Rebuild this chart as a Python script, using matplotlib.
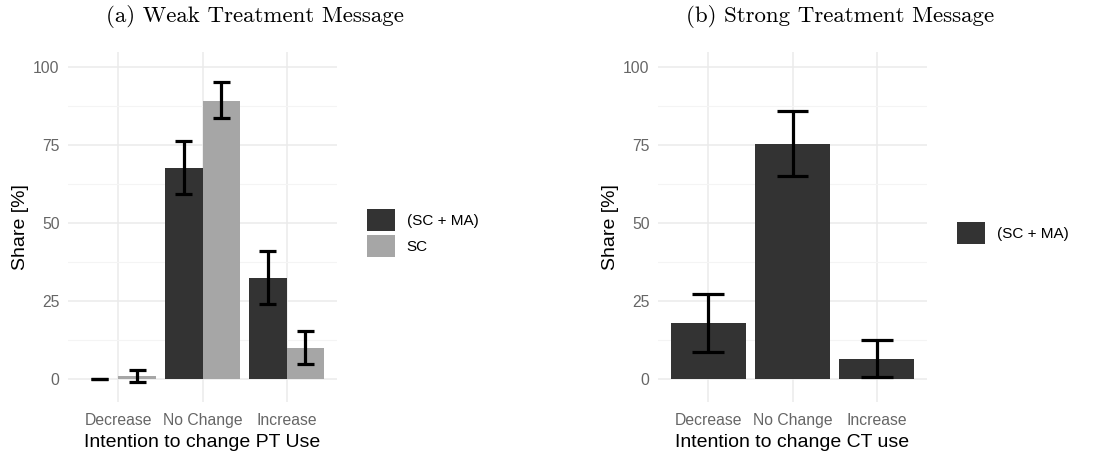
import matplotlib.pyplot as plt
import numpy as np
from matplotlib.patches import Patch

plt.rcParams['font.family'] = ['Liberation Sans', 'DejaVu Sans']

# --- Data ---
categories = ['Decrease', 'No Change', 'Increase']

# (a) weak treatment: two groups
weak_groups = ['(SC + MA)', 'SC']
weak_share = [[0.0, 67.5, 32.4],
              [0.9, 89.0, 10.0]]
weak_lo = [[0.0, 59.2, 24.1],
           [-0.9, 83.7, 4.8]]
weak_hi = [[0.0, 76.3, 41.1],
           [2.8, 95.0, 15.5]]

# (b) strong treatment: one group
strong_groups = ['(SC + MA)']
strong_share = [[17.9, 75.3, 6.4]]
strong_lo = [[8.8, 65.1, 0.6]]
strong_hi = [[27.2, 85.8, 12.4]]

colors = ['#333333', '#a6a6a6']
W, H = 1101, 454

fig = plt.figure(figsize=(W / 100, H / 100), dpi=100)


def panel(x0, x1, share, lo, hi, groups, title, title_x, xlabel, cap, legend_x):
    ax = fig.add_axes([x0 / W, 1 - 402 / H, (x1 - x0) / W, 350 / H])
    x = np.arange(1, len(categories) + 1)
    n = len(groups)
    bw = 0.9 / n
    for i, g in enumerate(groups):
        pos = x - 0.45 + bw * (i + 0.5)
        ax.bar(pos, share[i], width=bw, color=colors[i], zorder=2)
        ax.vlines(pos, lo[i], hi[i], color='black', lw=2.3, zorder=3)
        ax.hlines(lo[i], pos - cap / 2, pos + cap / 2, color='black', lw=2.3, zorder=3)
        ax.hlines(hi[i], pos - cap / 2, pos + cap / 2, color='black', lw=2.3, zorder=3)

    ax.set_xlim(0.4, 3.6)
    ax.set_ylim(-7.3, 104.7)
    ax.set_xticks(x)
    ax.set_xticklabels(categories)
    ax.set_yticks([0, 25, 50, 75, 100])
    ax.set_yticks([12.5, 37.5, 62.5, 87.5], minor=True)
    ax.grid(True, which='major', color='#ebebeb', lw=1.1, zorder=0)
    ax.grid(True, which='minor', axis='y', color='#f4f4f4', lw=0.8, zorder=0)
    ax.tick_params(which='both', length=0, labelsize=11.3, labelcolor='#666666')
    ax.tick_params(axis='x', pad=8)
    ax.tick_params(axis='y', pad=6)
    for s in ax.spines.values():
        s.set_visible(False)
    ax.set_xlabel(xlabel, fontsize=14, labelpad=4)
    ax.set_ylabel('Share [%]', fontsize=14, labelpad=3)
    fig.text(title_x / W, 1 - 16 / H, title, fontsize=16.5, family='cmr10',
             ha='center', va='center')

    handles = [Patch(facecolor=colors[i], label=g) for i, g in enumerate(groups)]
    fig.legend(handles=handles, loc='center left', bbox_to_anchor=(legend_x / W, 1 - 233 / H),
               frameon=False, fontsize=11, handlelength=1.8, handleheight=1.8,
               labelspacing=0.25, handletextpad=0.8, borderpad=0, borderaxespad=0)
    return ax


panel(68, 337, weak_share, weak_lo, weak_hi, weak_groups,
      '(a) Weak Treatment Message', 255, 'Intention to change PT Use', 0.21, 367)
panel(658, 927, strong_share, strong_lo, strong_hi, strong_groups,
      '(b) Strong Treatment Message', 840, 'Intention to change CT use', 0.38, 957)

fig.savefig('out.png', dpi=100)
